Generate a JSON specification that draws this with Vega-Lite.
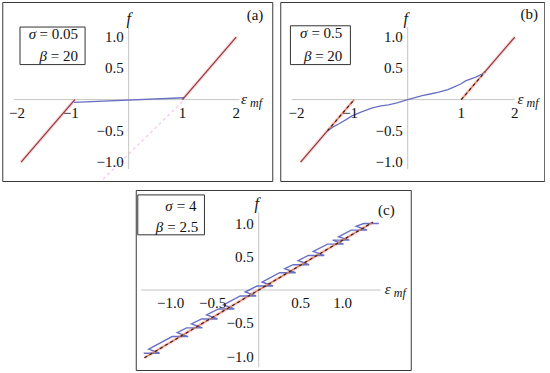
{
 "$schema": "https://vega.github.io/schema/vega-lite/v6.json",
 "padding": {"left": 1, "top": 1, "right": 0, "bottom": 0},
 "background": "white",
 "config": {
  "view": {"stroke": "#3a3a3a", "strokeWidth": 1},
  "axis": {"disable": true},
  "text": {"font": "Liberation Serif", "fontSize": 15, "fill": "#111"}
 },
 "datasets": {
  "curves": [
   {"p":"a","s":"sol","seg":"a1","i":0,"e":-2,"f":-1},
   {"p":"a","s":"sol","seg":"a1","i":1,"e":-1,"f":0},
   {"p":"a","s":"blue","seg":"a2","i":0,"e":-1.02,"f":-0.045},
   {"p":"a","s":"blue","seg":"a2","i":1,"e":1.03,"f":0.03},
   {"p":"a","s":"sol","seg":"a3","i":0,"e":1,"f":0},
   {"p":"a","s":"sol","seg":"a3","i":1,"e":2,"f":1},
   {"p":"a","s":"ghost","seg":"a4","i":0,"e":1.0,"f":-0.03},
   {"p":"a","s":"ghost","seg":"a4","i":1,"e":-0.5,"f":-1.29},
   {"p":"b","s":"sol","seg":"b1","i":0,"e":-2,"f":-1},
   {"p":"b","s":"sol","seg":"b1","i":1,"e":-1.5,"f":-0.5},
   {"p":"b","s":"dash","seg":"b2","i":0,"e":-1.5,"f":-0.5},
   {"p":"b","s":"dash","seg":"b2","i":1,"e":-1,"f":0},
   {"p":"b","s":"blue","seg":"b3","i":0,"e":-1.5,"f":-0.5},
   {"p":"b","s":"blue","seg":"b3","i":1,"e":-1.4,"f":-0.44},
   {"p":"b","s":"blue","seg":"b3","i":2,"e":-1.29,"f":-0.39},
   {"p":"b","s":"blue","seg":"b3","i":3,"e":-1.15,"f":-0.32},
   {"p":"b","s":"blue","seg":"b3","i":4,"e":-1.04,"f":-0.26},
   {"p":"b","s":"blue","seg":"b3","i":5,"e":-0.85,"f":-0.19},
   {"p":"b","s":"blue","seg":"b3","i":6,"e":-0.66,"f":-0.13},
   {"p":"b","s":"blue","seg":"b3","i":7,"e":-0.5,"f":-0.1},
   {"p":"b","s":"blue","seg":"b3","i":8,"e":-0.36,"f":-0.085},
   {"p":"b","s":"blue","seg":"b3","i":9,"e":-0.2,"f":-0.05},
   {"p":"b","s":"blue","seg":"b3","i":10,"e":0,"f":0},
   {"p":"b","s":"blue","seg":"b3","i":11,"e":0.27,"f":0.065},
   {"p":"b","s":"blue","seg":"b3","i":12,"e":0.42,"f":0.09},
   {"p":"b","s":"blue","seg":"b3","i":13,"e":0.58,"f":0.12},
   {"p":"b","s":"blue","seg":"b3","i":14,"e":0.75,"f":0.16},
   {"p":"b","s":"blue","seg":"b3","i":15,"e":0.86,"f":0.2},
   {"p":"b","s":"blue","seg":"b3","i":16,"e":0.99,"f":0.25},
   {"p":"b","s":"blue","seg":"b3","i":17,"e":1.08,"f":0.3},
   {"p":"b","s":"blue","seg":"b3","i":18,"e":1.27,"f":0.36},
   {"p":"b","s":"blue","seg":"b3","i":19,"e":1.39,"f":0.41},
   {"p":"b","s":"blue","seg":"b3","i":20,"e":1.45,"f":0.45},
   {"p":"b","s":"dash","seg":"b4","i":0,"e":1,"f":0},
   {"p":"b","s":"dash","seg":"b4","i":1,"e":1.45,"f":0.45},
   {"p":"b","s":"sol","seg":"b5","i":0,"e":1.45,"f":0.45},
   {"p":"b","s":"sol","seg":"b5","i":1,"e":2,"f":1},
   {"p":"c","s":"dash","seg":"c1","i":0,"e":-1.36,"f":-1.02},
   {"p":"c","s":"dash","seg":"c1","i":1,"e":1.36,"f":1.02},
   {"p":"c","s":"blue","seg":"c2","i":0,"e":-1.37,"f":-0.95},
   {"p":"c","s":"blue","seg":"c2","i":1,"e":-1.18,"f":-0.95},
   {"p":"c","s":"blue","seg":"c2","i":2,"e":-1.31,"f":-0.89},
   {"p":"c","s":"blue","seg":"c2","i":3,"e":-1.03,"f":-0.7},
   {"p":"c","s":"blue","seg":"c2","i":4,"e":-0.84,"f":-0.7},
   {"p":"c","s":"blue","seg":"c2","i":5,"e":-0.97,"f":-0.64},
   {"p":"c","s":"blue","seg":"c2","i":6,"e":-0.86,"f":-0.57},
   {"p":"c","s":"blue","seg":"c2","i":7,"e":-0.67,"f":-0.57},
   {"p":"c","s":"blue","seg":"c2","i":8,"e":-0.8,"f":-0.51},
   {"p":"c","s":"blue","seg":"c2","i":9,"e":-0.68,"f":-0.435},
   {"p":"c","s":"blue","seg":"c2","i":10,"e":-0.49,"f":-0.435},
   {"p":"c","s":"blue","seg":"c2","i":11,"e":-0.62,"f":-0.375},
   {"p":"c","s":"blue","seg":"c2","i":12,"e":-0.48,"f":-0.285},
   {"p":"c","s":"blue","seg":"c2","i":13,"e":-0.29,"f":-0.285},
   {"p":"c","s":"blue","seg":"c2","i":14,"e":-0.42,"f":-0.225},
   {"p":"c","s":"blue","seg":"c2","i":15,"e":-0.22,"f":-0.09},
   {"p":"c","s":"blue","seg":"c2","i":16,"e":-0.03,"f":-0.09},
   {"p":"c","s":"blue","seg":"c2","i":17,"e":-0.16,"f":-0.03},
   {"p":"c","s":"blue","seg":"c2","i":18,"e":-0.02,"f":0.06},
   {"p":"c","s":"blue","seg":"c2","i":19,"e":0.17,"f":0.06},
   {"p":"c","s":"blue","seg":"c2","i":20,"e":0.04,"f":0.12},
   {"p":"c","s":"blue","seg":"c2","i":21,"e":0.25,"f":0.26},
   {"p":"c","s":"blue","seg":"c2","i":22,"e":0.44,"f":0.26},
   {"p":"c","s":"blue","seg":"c2","i":23,"e":0.31,"f":0.32},
   {"p":"c","s":"blue","seg":"c2","i":24,"e":0.41,"f":0.38},
   {"p":"c","s":"blue","seg":"c2","i":25,"e":0.6,"f":0.38},
   {"p":"c","s":"blue","seg":"c2","i":26,"e":0.47,"f":0.44},
   {"p":"c","s":"blue","seg":"c2","i":27,"e":0.59,"f":0.52},
   {"p":"c","s":"blue","seg":"c2","i":28,"e":0.78,"f":0.52},
   {"p":"c","s":"blue","seg":"c2","i":29,"e":0.65,"f":0.58},
   {"p":"c","s":"blue","seg":"c2","i":30,"e":0.82,"f":0.69},
   {"p":"c","s":"blue","seg":"c2","i":31,"e":1.01,"f":0.69},
   {"p":"c","s":"blue","seg":"c2","i":32,"e":0.88,"f":0.75},
   {"p":"c","s":"blue","seg":"c2","i":33,"e":0.9,"f":0.75},
   {"p":"c","s":"blue","seg":"c2","i":34,"e":1.08,"f":0.75},
   {"p":"c","s":"blue","seg":"c2","i":35,"e":0.95,"f":0.8},
   {"p":"c","s":"blue","seg":"c2","i":36,"e":1.1,"f":0.9},
   {"p":"c","s":"blue","seg":"c2","i":37,"e":1.29,"f":0.9},
   {"p":"c","s":"blue","seg":"c2","i":38,"e":1.16,"f":0.96},
   {"p":"c","s":"blue","seg":"c2","i":39,"e":1.25,"f":1.0},
   {"p":"c","s":"blue","seg":"c2","i":40,"e":1.43,"f":1.0}
  ],
  "ticks": [
   {"p":"a","ax":"x","v":-2,"lab":"−2"},
   {"p":"a","ax":"x","v":-1,"lab":"−1"},
   {"p":"a","ax":"x","v":1,"lab":"1"},
   {"p":"a","ax":"x","v":2,"lab":"2"},
   {"p":"a","ax":"y","v":1,"lab":"1.0"},
   {"p":"a","ax":"y","v":0.5,"lab":"0.5"},
   {"p":"a","ax":"y","v":-0.5,"lab":"−0.5"},
   {"p":"a","ax":"y","v":-1,"lab":"−1.0"},
   {"p":"b","ax":"x","v":-2,"lab":"−2"},
   {"p":"b","ax":"x","v":-1,"lab":"−1"},
   {"p":"b","ax":"x","v":1,"lab":"1"},
   {"p":"b","ax":"x","v":2,"lab":"2"},
   {"p":"b","ax":"y","v":1,"lab":"1.0"},
   {"p":"b","ax":"y","v":0.5,"lab":"0.5"},
   {"p":"b","ax":"y","v":-0.5,"lab":"−0.5"},
   {"p":"b","ax":"y","v":-1,"lab":"−1.0"},
   {"p":"c","ax":"x","v":-1,"lab":"−1.0"},
   {"p":"c","ax":"x","v":-0.5,"lab":"−0.5"},
   {"p":"c","ax":"x","v":0.5,"lab":"0.5"},
   {"p":"c","ax":"x","v":1,"lab":"1.0"},
   {"p":"c","ax":"y","v":1,"lab":"1.0"},
   {"p":"c","ax":"y","v":0.5,"lab":"0.5"},
   {"p":"c","ax":"y","v":-0.5,"lab":"−0.5"},
   {"p":"c","ax":"y","v":-1,"lab":"−1.0"}
  ]
 },
 "spacing": 5,
 "center": true,
 "vconcat": [
  {
   "hconcat": [
    {
     "width": 270, "height": 179,
     "data": {"values": [{}]},
     "layer": [
      {"data": {"name": "curves"}, "transform": [{"filter": "datum.p=='a' && (datum.s=='sol' || datum.s=='dash')"}],
       "mark": {"type": "line", "color": "#fad6e4", "strokeWidth": 3.5},
       "encoding": {
        "x": {"field": "e", "type": "quantitative", "scale": {"domain": [-2.35, 2.67], "nice": false, "zero": false}, "axis": null},
        "y": {"field": "f", "type": "quantitative", "scale": {"domain": [-1.30, 1.56], "nice": false, "zero": false}, "axis": null},
        "detail": {"field": "seg"}, "order": {"field": "i"}}},
      {"data": {"name": "curves"}, "transform": [{"filter": "datum.p=='a' && datum.s=='ghost'"}],
       "mark": {"type": "line", "color": "#f0a8e8", "strokeWidth": 1.5, "strokeDash": [3, 3], "opacity": 0.55},
       "encoding": {"x": {"field": "e", "type": "quantitative"}, "y": {"field": "f", "type": "quantitative"}, "order": {"field": "i"}}},
      {"mark": {"type": "rule", "color": "#c4c4c4", "strokeWidth": 1},
       "encoding": {"x": {"datum": -2.13}, "x2": {"datum": 2.06}, "y": {"datum": 0}}},
      {"mark": {"type": "rule", "color": "#c4c4c4", "strokeWidth": 1},
       "encoding": {"x": {"datum": 0}, "y": {"datum": 1.16}, "y2": {"datum": -1.11}}},
      {"data": {"name": "curves"}, "transform": [{"filter": "datum.p=='a' && datum.s=='blue'"}],
       "mark": {"type": "line", "color": "#6a70c4", "strokeWidth": 1.3},
       "encoding": {"x": {"field": "e", "type": "quantitative"}, "y": {"field": "f", "type": "quantitative"}, "detail": {"field": "seg"}, "order": {"field": "i"}}},
      {"data": {"name": "curves"}, "transform": [{"filter": "datum.p=='a' && datum.s=='sol'"}],
       "mark": {"type": "line", "color": "#8f3b2b", "strokeWidth": 1.2},
       "encoding": {"x": {"field": "e", "type": "quantitative"}, "y": {"field": "f", "type": "quantitative"}, "detail": {"field": "seg"}, "order": {"field": "i"}}},
      {"data": {"name": "ticks"}, "transform": [{"filter": "datum.p=='a' && datum.ax=='x' && datum.v>0"}],
       "mark": {"type": "text", "align": "center", "baseline": "middle", "dy": 13},
       "encoding": {"x": {"field": "v", "type": "quantitative"}, "y": {"datum": 0}, "text": {"field": "lab"}}},
      {"data": {"name": "ticks"}, "transform": [{"filter": "datum.p=='a' && datum.ax=='x' && datum.v<0"}],
       "mark": {"type": "text", "align": "center", "baseline": "middle", "dy": 13, "dx": -4},
       "encoding": {"x": {"field": "v", "type": "quantitative"}, "y": {"datum": 0}, "text": {"field": "lab"}}},
      {"data": {"name": "ticks"}, "transform": [{"filter": "datum.p=='a' && datum.ax=='y'"}],
       "mark": {"type": "text", "align": "right", "baseline": "middle", "dx": -5},
       "encoding": {"x": {"datum": 0}, "y": {"field": "v", "type": "quantitative"}, "text": {"field": "lab"}}},
      {"mark": {"type": "rect", "fill": "white", "stroke": "#333", "strokeWidth": 1},
       "encoding": {"x": {"datum": -2.02}, "x2": {"datum": -0.81}, "y": {"datum": 1.16}, "y2": {"datum": 0.56}}},
      {"mark": {"type": "text", "text": "= 0.05", "align": "right", "baseline": "middle"},
       "encoding": {"x": {"datum": -0.94}, "y": {"datum": 1.05}}},
      {"mark": {"type": "text", "text": "σ", "align": "right", "baseline": "middle", "fontStyle": "italic", "dx": -42},
       "encoding": {"x": {"datum": -0.94}, "y": {"datum": 1.05}}},
      {"mark": {"type": "text", "text": "= 20", "align": "right", "baseline": "middle"},
       "encoding": {"x": {"datum": -0.94}, "y": {"datum": 0.7}}},
      {"mark": {"type": "text", "text": "β", "align": "right", "baseline": "middle", "fontStyle": "italic", "dx": -31},
       "encoding": {"x": {"datum": -0.94}, "y": {"datum": 0.7}}},
      {"mark": {"type": "text", "text": "(a)", "align": "center", "baseline": "middle"},
       "encoding": {"x": {"datum": 2.35}, "y": {"datum": 1.355}}},
      {"mark": {"type": "text", "text": "f", "align": "center", "baseline": "middle", "fontStyle": "italic", "fontSize": 16},
       "encoding": {"x": {"datum": 0}, "y": {"datum": 1.29}}},
      {"mark": {"type": "text", "text": "ε", "align": "left", "baseline": "middle", "fontStyle": "italic", "dy": -1},
       "encoding": {"x": {"datum": 2.09}, "y": {"datum": 0}}},
      {"mark": {"type": "text", "text": "mf", "align": "left", "baseline": "middle", "fontStyle": "italic", "fontSize": 12, "dx": 9, "dy": 3},
       "encoding": {"x": {"datum": 2.09}, "y": {"datum": 0}}}
     ]
    },
    {
     "width": 264, "height": 179,
     "data": {"values": [{}]},
     "layer": [
      {"data": {"name": "curves"}, "transform": [{"filter": "datum.p=='b' && (datum.s=='sol' || datum.s=='dash')"}],
       "mark": {"type": "line", "color": "#fad6e4", "strokeWidth": 3.5},
       "encoding": {
        "x": {"field": "e", "type": "quantitative", "scale": {"domain": [-2.38, 2.55], "nice": false, "zero": false}, "axis": null},
        "y": {"field": "f", "type": "quantitative", "scale": {"domain": [-1.30, 1.56], "nice": false, "zero": false}, "axis": null},
        "detail": {"field": "seg"}, "order": {"field": "i"}}},
      {"mark": {"type": "rule", "color": "#c4c4c4", "strokeWidth": 1},
       "encoding": {"x": {"datum": -2.16}, "x2": {"datum": 2.0}, "y": {"datum": 0}}},
      {"mark": {"type": "rule", "color": "#c4c4c4", "strokeWidth": 1},
       "encoding": {"x": {"datum": 0}, "y": {"datum": 1.16}, "y2": {"datum": -1.11}}},
      {"data": {"name": "curves"}, "transform": [{"filter": "datum.p=='b' && datum.s=='blue'"}],
       "mark": {"type": "line", "color": "#6a70c4", "strokeWidth": 1.3},
       "encoding": {"x": {"field": "e", "type": "quantitative"}, "y": {"field": "f", "type": "quantitative"}, "detail": {"field": "seg"}, "order": {"field": "i"}}},
      {"data": {"name": "curves"}, "transform": [{"filter": "datum.p=='b' && datum.s=='sol'"}],
       "mark": {"type": "line", "color": "#8f3b2b", "strokeWidth": 1.2},
       "encoding": {"x": {"field": "e", "type": "quantitative"}, "y": {"field": "f", "type": "quantitative"}, "detail": {"field": "seg"}, "order": {"field": "i"}}},
      {"data": {"name": "curves"}, "transform": [{"filter": "datum.p=='b' && datum.s=='dash'"}],
       "mark": {"type": "line", "color": "#d9773f", "strokeWidth": 1.2},
       "encoding": {"x": {"field": "e", "type": "quantitative"}, "y": {"field": "f", "type": "quantitative"}, "detail": {"field": "seg"}, "order": {"field": "i"}}},
      {"data": {"name": "curves"}, "transform": [{"filter": "datum.p=='b' && datum.s=='dash'"}],
       "mark": {"type": "line", "color": "#3b2418", "strokeWidth": 1.2, "strokeDash": [3, 3]},
       "encoding": {"x": {"field": "e", "type": "quantitative"}, "y": {"field": "f", "type": "quantitative"}, "detail": {"field": "seg"}, "order": {"field": "i"}}},
      {"data": {"name": "ticks"}, "transform": [{"filter": "datum.p=='b' && datum.ax=='x' && datum.v>0"}],
       "mark": {"type": "text", "align": "center", "baseline": "middle", "dy": 13},
       "encoding": {"x": {"field": "v", "type": "quantitative"}, "y": {"datum": 0}, "text": {"field": "lab"}}},
      {"data": {"name": "ticks"}, "transform": [{"filter": "datum.p=='b' && datum.ax=='x' && datum.v<0"}],
       "mark": {"type": "text", "align": "center", "baseline": "middle", "dy": 13, "dx": -4},
       "encoding": {"x": {"field": "v", "type": "quantitative"}, "y": {"datum": 0}, "text": {"field": "lab"}}},
      {"data": {"name": "ticks"}, "transform": [{"filter": "datum.p=='b' && datum.ax=='y'"}],
       "mark": {"type": "text", "align": "right", "baseline": "middle", "dx": -5},
       "encoding": {"x": {"datum": 0}, "y": {"field": "v", "type": "quantitative"}, "text": {"field": "lab"}}},
      {"mark": {"type": "rect", "fill": "white", "stroke": "#333", "strokeWidth": 1},
       "encoding": {"x": {"datum": -2.19}, "x2": {"datum": -1.07}, "y": {"datum": 1.18}, "y2": {"datum": 0.56}}},
      {"mark": {"type": "text", "text": "= 0.5", "align": "right", "baseline": "middle"},
       "encoding": {"x": {"datum": -1.22}, "y": {"datum": 1.06}}},
      {"mark": {"type": "text", "text": "σ", "align": "right", "baseline": "middle", "fontStyle": "italic", "dx": -35},
       "encoding": {"x": {"datum": -1.22}, "y": {"datum": 1.06}}},
      {"mark": {"type": "text", "text": "= 20", "align": "right", "baseline": "middle"},
       "encoding": {"x": {"datum": -1.22}, "y": {"datum": 0.7}}},
      {"mark": {"type": "text", "text": "β", "align": "right", "baseline": "middle", "fontStyle": "italic", "dx": -31},
       "encoding": {"x": {"datum": -1.22}, "y": {"datum": 0.7}}},
      {"mark": {"type": "text", "text": "(b)", "align": "center", "baseline": "middle"},
       "encoding": {"x": {"datum": 2.27}, "y": {"datum": 1.37}}},
      {"mark": {"type": "text", "text": "f", "align": "center", "baseline": "middle", "fontStyle": "italic", "fontSize": 16, "dx": -2},
       "encoding": {"x": {"datum": 0}, "y": {"datum": 1.29}}},
      {"mark": {"type": "text", "text": "ε", "align": "left", "baseline": "middle", "fontStyle": "italic", "dy": -1},
       "encoding": {"x": {"datum": 2.05}, "y": {"datum": 0}}},
      {"mark": {"type": "text", "text": "mf", "align": "left", "baseline": "middle", "fontStyle": "italic", "fontSize": 12, "dx": 9, "dy": 3},
       "encoding": {"x": {"datum": 2.05}, "y": {"datum": 0}}}
     ]
    }
   ],
   "spacing": 6
  },
  {
   "width": 275, "height": 180,
   "data": {"values": [{}]},
   "layer": [
    {"data": {"name": "curves"}, "transform": [{"filter": "datum.p=='c' && datum.s=='dash'"}],
     "mark": {"type": "line", "color": "#fad6e4", "strokeWidth": 3.5},
     "encoding": {
      "x": {"field": "e", "type": "quantitative", "scale": {"domain": [-1.464, 1.81], "nice": false, "zero": false}, "axis": null},
      "y": {"field": "f", "type": "quantitative", "scale": {"domain": [-1.203, 1.504], "nice": false, "zero": false}, "axis": null},
      "detail": {"field": "seg"}, "order": {"field": "i"}}},
    {"mark": {"type": "rule", "color": "#c4c4c4", "strokeWidth": 1},
     "encoding": {"x": {"datum": -1.40}, "x2": {"datum": 1.45}, "y": {"datum": 0}}},
    {"mark": {"type": "rule", "color": "#c4c4c4", "strokeWidth": 1},
     "encoding": {"x": {"datum": 0}, "y": {"datum": 1.17}, "y2": {"datum": -1.16}}},
    {"data": {"name": "curves"}, "transform": [{"filter": "datum.p=='c' && datum.s=='blue'"}],
     "mark": {"type": "line", "color": "#6a70c4", "strokeWidth": 1.4},
     "encoding": {"x": {"field": "e", "type": "quantitative"}, "y": {"field": "f", "type": "quantitative"}, "detail": {"field": "seg"}, "order": {"field": "i"}}},
    {"data": {"name": "curves"}, "transform": [{"filter": "datum.p=='c' && datum.s=='dash'"}],
     "mark": {"type": "line", "color": "#d9773f", "strokeWidth": 1.2},
     "encoding": {"x": {"field": "e", "type": "quantitative"}, "y": {"field": "f", "type": "quantitative"}, "detail": {"field": "seg"}, "order": {"field": "i"}}},
    {"data": {"name": "curves"}, "transform": [{"filter": "datum.p=='c' && datum.s=='dash'"}],
     "mark": {"type": "line", "color": "#3b2418", "strokeWidth": 1.2, "strokeDash": [3, 3]},
     "encoding": {"x": {"field": "e", "type": "quantitative"}, "y": {"field": "f", "type": "quantitative"}, "detail": {"field": "seg"}, "order": {"field": "i"}}},
    {"data": {"name": "ticks"}, "transform": [{"filter": "datum.p=='c' && datum.ax=='x' && datum.v>0"}],
     "mark": {"type": "text", "align": "center", "baseline": "middle", "dy": 13},
     "encoding": {"x": {"field": "v", "type": "quantitative"}, "y": {"datum": 0}, "text": {"field": "lab"}}},
    {"data": {"name": "ticks"}, "transform": [{"filter": "datum.p=='c' && datum.ax=='x' && datum.v<0"}],
     "mark": {"type": "text", "align": "center", "baseline": "middle", "dy": 13, "dx": -4},
     "encoding": {"x": {"field": "v", "type": "quantitative"}, "y": {"datum": 0}, "text": {"field": "lab"}}},
    {"data": {"name": "ticks"}, "transform": [{"filter": "datum.p=='c' && datum.ax=='y'"}],
     "mark": {"type": "text", "align": "right", "baseline": "middle", "dx": -5},
     "encoding": {"x": {"datum": 0}, "y": {"field": "v", "type": "quantitative"}, "text": {"field": "lab"}}},
    {"mark": {"type": "rect", "fill": "white", "stroke": "#333", "strokeWidth": 1},
     "encoding": {"x": {"datum": -1.44}, "x2": {"datum": -0.646}, "y": {"datum": 1.43}, "y2": {"datum": 0.83}}},
    {"mark": {"type": "text", "text": "= 4", "align": "right", "baseline": "middle"},
     "encoding": {"x": {"datum": -0.74}, "y": {"datum": 1.27}}},
    {"mark": {"type": "text", "text": "σ", "align": "right", "baseline": "middle", "fontStyle": "italic", "dx": -24},
     "encoding": {"x": {"datum": -0.74}, "y": {"datum": 1.27}}},
    {"mark": {"type": "text", "text": "= 2.5", "align": "right", "baseline": "middle"},
     "encoding": {"x": {"datum": -0.72}, "y": {"datum": 0.95}}},
    {"mark": {"type": "text", "text": "β", "align": "right", "baseline": "middle", "fontStyle": "italic", "dx": -35},
     "encoding": {"x": {"datum": -0.72}, "y": {"datum": 0.95}}},
    {"mark": {"type": "text", "text": "(c)", "align": "center", "baseline": "middle"},
     "encoding": {"x": {"datum": 1.52}, "y": {"datum": 1.2}}},
    {"mark": {"type": "text", "text": "f", "align": "center", "baseline": "middle", "fontStyle": "italic", "fontSize": 16, "dx": -2},
     "encoding": {"x": {"datum": 0}, "y": {"datum": 1.3}}},
    {"mark": {"type": "text", "text": "ε", "align": "left", "baseline": "middle", "fontStyle": "italic", "dy": -1},
     "encoding": {"x": {"datum": 1.5}, "y": {"datum": 0}}},
    {"mark": {"type": "text", "text": "mf", "align": "left", "baseline": "middle", "fontStyle": "italic", "fontSize": 12, "dx": 9, "dy": 3},
     "encoding": {"x": {"datum": 1.5}, "y": {"datum": 0}}}
   ]
  }
 ]
}
